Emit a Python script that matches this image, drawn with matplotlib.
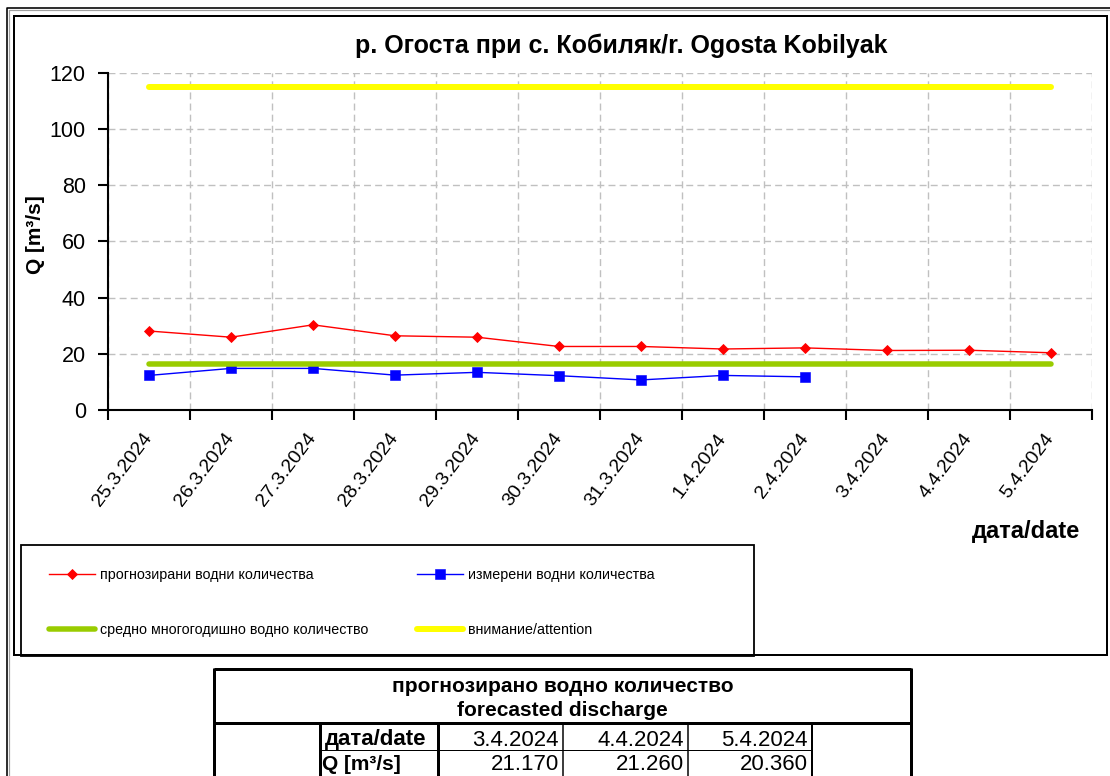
import numpy as np
import matplotlib
matplotlib.use('Agg')
import matplotlib.pyplot as plt
from matplotlib.lines import Line2D
from matplotlib.patches import Rectangle

# ---------------- data ----------------
dates = ['25.3.2024', '26.3.2024', '27.3.2024', '28.3.2024', '29.3.2024', '30.3.2024',
         '31.3.2024', '1.4.2024', '2.4.2024', '3.4.2024', '4.4.2024', '5.4.2024']
forecast = [28.1, 25.9, 30.3, 26.4, 25.9, 22.6, 22.6, 21.7, 22.1, 21.17, 21.26, 20.36]
measured = [12.3, 14.8, 14.8, 12.4, 13.4, 12.2, 10.7, 12.3, 11.8]
mean_level = 16.5
attention_level = 115.0
yticks = [0, 20, 40, 60, 80, 100, 120]

title = 'р. Огоста при с. Кобиляк/r. Ogosta Kobilyak'
ylabel = 'Q [m³/s]'
xlabel = 'дата/date'
legend_labels = ['прогнозирани водни количества', 'измерени водни количества',
                 'средно многогодишно водно количество', 'внимание/attention']
table_title = ['прогнозирано водно количество', 'forecasted discharge']
table_row_labels = ['дата/date', 'Q [m³/s]']
table_dates = dates[-3:]
table_values = forecast[-3:]

# ---------------- style ----------------
plt.rcParams['font.family'] = ['Liberation Sans', 'DejaVu Sans']
RED = '#FF0000'
BLUE = '#0000FF'
GREEN = '#99CC00'
YELLOW = '#FFFF00'
GRID = '#C0C0C0'

W, H = 1110, 776
PT = 72 / 100.0  # px -> pt
fig = plt.figure(figsize=(W / 100, H / 100), dpi=100)


def fx(px):
    return px / W


def fy(py):
    return 1 - py / H


def fline(xs, ys, lw_px, color='black', **kw):
    fig.add_artist(Line2D([fx(v) for v in xs], [fy(v) for v in ys], lw=lw_px * PT,
                          color=color, transform=fig.transFigure, solid_capstyle='butt', **kw))


# frames
fline([7, 7, 1110], [776, 8, 8], 1.6)
fline([9, 9, 1110], [776, 10, 10], 1.2, color='#A0A0A0')
fig.add_artist(Rectangle((fx(14), fy(655)), fx(1107) - fx(14), fy(16) - fy(655),
                         transform=fig.transFigure, fill=False, lw=2.0 * PT, ec='black'))
fig.add_artist(Rectangle((fx(21), fy(656)), fx(754) - fx(21), fy(545) - fy(656),
                         transform=fig.transFigure, fill=False, lw=1.8 * PT, ec='black'))

# ---------------- axes ----------------
ax_l, ax_r, ax_t, ax_b = 108, 1092, 72.7, 410
ax = fig.add_axes([fx(ax_l), fy(ax_b), (ax_r - ax_l) / W, (ax_b - ax_t) / H])
n = len(dates)
x = np.arange(n)

l_fc, = ax.plot(x, forecast, color=RED, lw=1.4 * PT, marker='D', ms=4.8, mec=RED, mew=0.6, zorder=3)
l_ms, = ax.plot(x[:len(measured)], measured, color=BLUE, lw=1.4 * PT, marker='s', ms=7.2,
                mec=BLUE, mew=0.4, zorder=3)
l_mean, = ax.plot(x, [mean_level] * n, color=GREEN, lw=5.5 * PT, solid_capstyle='round', zorder=4)
l_att, = ax.plot(x, [attention_level] * n, color=YELLOW, lw=6 * PT, solid_capstyle='round', zorder=4)

ax.set_xlim(-0.5, n - 0.5)
ax.set_ylim(0, 120)
ax.set_yticks(yticks)
ax.set_xticks(np.arange(-0.5, n, 1.0))
ax.set_xticklabels([])
ax.set_xticks(x, minor=True)
ax.set_xticklabels(dates, minor=True, rotation=53, ha='right', va='center',
                   rotation_mode='anchor', fontsize=14)
ax.tick_params(axis='x', which='major', length=7, width=1.5, direction='out', color='black')
ax.tick_params(axis='x', which='minor', length=0, pad=18)
ax.tick_params(axis='y', which='major', length=7, width=1.5, direction='out', labelsize=15.5, pad=9)

for s in ['top', 'right']:
    ax.spines[s].set_visible(False)
for s in ['left', 'bottom']:
    ax.spines[s].set_linewidth(1.5)
    ax.spines[s].set_color('black')

ax.set_axisbelow(True)
ax.grid(True, which='major', axis='both', color=GRID, lw=1.0, linestyle=(0, (5, 3)))

ax.set_title(title, x=(621 - ax_l) / (ax_r - ax_l), y=1 + (ax_t - 46) / (ax_b - ax_t),
             va='center', fontsize=18, fontweight='bold', pad=0)
ax.set_ylabel(ylabel, fontsize=15, fontweight='bold')
ax.yaxis.set_label_coords((45 - ax_l) / (ax_r - ax_l), (ax_b - 235) / (ax_b - ax_t))
ax.set_xlabel(xlabel, fontsize=17, fontweight='bold')
ax.xaxis.set_label_coords((1026 - ax_l) / (ax_r - ax_l), -(520 - ax_b) / (ax_b - ax_t))

# ---------------- legend ----------------
leg_pos = {0: (49, 575), 1: (417, 575), 2: (49, 630), 3: (417, 630)}
for i, h in enumerate([l_fc, l_ms, l_mean, l_att]):
    px, py = leg_pos[i]
    fig.legend(handles=[h], labels=[legend_labels[i]], loc='center left',
               bbox_to_anchor=(fx(px), fy(py)), bbox_transform=fig.transFigure,
               frameon=False, borderpad=0, borderaxespad=0, handlelength=3.2,
               handletextpad=0.35, fontsize=10.3, numpoints=1)

# ---------------- table ----------------
cols = [214, 320, 438, 563, 688, 812, 911]
t_top, t_sep, t_row, t_bot = 669, 723, 750, 780
fline([cols[0], cols[-1]], [t_top, t_top], 3)
fline([cols[0], cols[0]], [t_top - 1.5, t_bot], 3)
fline([cols[-1], cols[-1]], [t_top - 1.5, t_bot], 3)
fline([cols[0], cols[-1]], [t_sep, t_sep], 3)
for c, w in zip(cols[1:-1], [3, 3, 1.5, 1.5, 2]):
    fline([c, c], [t_sep, t_bot], w)
fline([cols[1], cols[5]], [t_row, t_row], 1)

fig.text(fx((cols[0] + cols[-1]) / 2), fy(687), table_title[0], ha='center', va='center',
         fontsize=15, fontweight='bold')
fig.text(fx((cols[0] + cols[-1]) / 2), fy(711), table_title[1], ha='center', va='center',
         fontsize=15, fontweight='bold')
fig.text(fx(cols[1] + 5), fy(740), table_row_labels[0], ha='left', va='center',
         fontsize=16, fontweight='bold')
fig.text(fx(cols[1] + 2), fy(765), table_row_labels[1], ha='left', va='center',
         fontsize=15, fontweight='bold')
for j in range(len(table_dates)):
    right = cols[3 + j] - 4
    fig.text(fx(right), fy(740), table_dates[j], ha='right', va='center', fontsize=16)
    fig.text(fx(right), fy(765), f'{table_values[j]:.3f}', ha='right', va='center', fontsize=16)

fig.savefig('out.png', dpi=100)
